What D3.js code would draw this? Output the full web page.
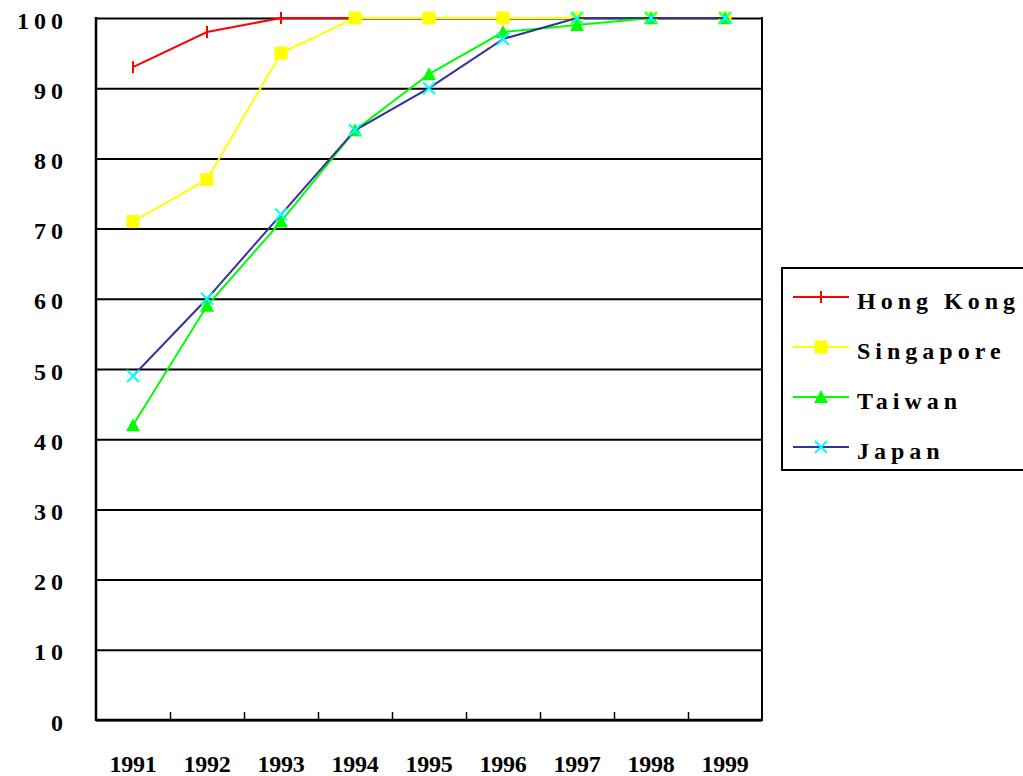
<!DOCTYPE html>
<html>
<head>
<meta charset="utf-8">
<script src="https://cdn.jsdelivr.net/npm/d3@7"></script>
<style>
  html, body { margin: 0; padding: 0; background: #fff; }
  svg { display: block; }
  text { font-family: "Liberation Serif", "Times New Roman", serif; font-weight: bold; fill: #000; }
</style>
</head>
<body>
<svg id="chart" width="1023" height="776"></svg>
<script>
// Years along the bottom axis
const years = ["1991", "1992", "1993", "1994", "1995", "1996", "1997", "1998", "1999"];

// Percentage values for each economy
const hongKong  = [93, 98, 100, 100, 100, 100, 100, 100, 100];
const singapore = [71, 77, 95, 100, 100, 100, 100, 100, 100];
const taiwan    = [42, 59, 71, 84, 92, 98, 99, 100, 100];
const japan     = [49, 60, 72, 84, 90, 97, 100, 100, 100];

// Value-axis tick labels
const yTicks = [0, 10, 20, 30, 40, 50, 60, 70, 80, 90, 100];

const seriesNames = ["Hong Kong", "Singapore", "Taiwan", "Japan"];

const series = [
  { name: seriesNames[0], values: hongKong,  line: "#ff0000", marker: "tick",     mfill: "#ff0000" },
  { name: seriesNames[1], values: singapore, line: "#ffff00", marker: "square",   mfill: "#ffff00" },
  { name: seriesNames[2], values: taiwan,    line: "#00ff00", marker: "triangle", mfill: "#00ff00" },
  { name: seriesNames[3], values: japan,     line: "#333399", marker: "cross",    mfill: "#00ffff" }
];

const svg = d3.select("#chart");
const plot = { left: 96, right: 762, top: 18, bottom: 720 };

const x = d3.scaleBand().domain(years).range([plot.left, plot.right]).paddingInner(0).paddingOuter(0);
const xEdges = d3.scaleLinear().domain([0, years.length]).range([plot.left, plot.right]);
const y = d3.scaleLinear().domain([0, 100]).range([plot.bottom, plot.top]);

// Horizontal gridlines with value labels
const yAxis = svg.append("g")
  .attr("transform", `translate(${plot.left},0)`)
  .call(d3.axisLeft(y).tickValues(yTicks).tickSize(-(plot.right - plot.left)).tickFormat(d3.format("d")));
yAxis.select(".domain").remove();
yAxis.selectAll(".tick line").attr("stroke", "#000").attr("stroke-width", 2);
yAxis.selectAll(".tick text")
  .attr("x", -28)
  .attr("dy", "0.42em")
  .attr("text-anchor", "end")
  .style("font-size", "24px")
  .style("letter-spacing", "5px");

// Left and right frame edges
svg.append("line").attr("x1", plot.left).attr("x2", plot.left).attr("y1", plot.top - 1).attr("y2", plot.bottom + 1)
  .attr("stroke", "#000").attr("stroke-width", 2.5);
svg.append("line").attr("x1", plot.right).attr("x2", plot.right).attr("y1", plot.top - 1).attr("y2", plot.bottom + 1)
  .attr("stroke", "#000").attr("stroke-width", 2);

// Bottom axis: inward ticks at category boundaries
const xTickAxis = svg.append("g")
  .attr("transform", `translate(0,${plot.bottom})`)
  .call(d3.axisBottom(xEdges).tickValues(d3.range(1, years.length)).tickSize(-8).tickFormat(""));
xTickAxis.select(".domain").attr("stroke", "#000").attr("stroke-width", 2.5)
  .attr("d", `M${plot.left},0H${plot.right}`);
xTickAxis.selectAll(".tick line").attr("stroke", "#000").attr("stroke-width", 1.5);

// Year labels
const xLabels = svg.append("g")
  .attr("transform", `translate(0,${plot.bottom})`)
  .call(d3.axisBottom(x).tickSize(0).tickPadding(0));
xLabels.select(".domain").remove();
xLabels.selectAll(".tick text")
  .attr("y", 52)
  .attr("dy", 0)
  .style("font-size", "24px")
  .style("letter-spacing", "-0.3px");

// Marker shapes
function drawMarker(g, type, fill) {
  if (type === "tick") {
    g.append("line").attr("x1", 0).attr("x2", 0).attr("y1", -6).attr("y2", 6)
      .attr("stroke", fill).attr("stroke-width", 2);
  } else if (type === "square") {
    g.append("rect").attr("x", -6.5).attr("y", -6.5).attr("width", 13).attr("height", 13).attr("fill", fill);
  } else if (type === "triangle") {
    g.append("path").attr("d", "M0,-7L7,6L-7,6Z").attr("fill", fill);
  } else if (type === "cross") {
    g.append("path").attr("d", "M-6,-6L6,6M-6,6L6,-6").attr("stroke", fill).attr("stroke-width", 2).attr("fill", "none");
  }
}

const line = d3.line()
  .x((d, i) => x(years[i]) + x.bandwidth() / 2)
  .y(d => y(d));

series.forEach(s => {
  const g = svg.append("g");
  g.append("path").datum(s.values).attr("d", line)
    .attr("fill", "none").attr("stroke", s.line).attr("stroke-width", 2);
  g.selectAll("g.m").data(s.values).join("g")
    .attr("class", "m")
    .attr("transform", (d, i) => `translate(${x(years[i]) + x.bandwidth() / 2},${y(d)})`)
    .each(function () { drawMarker(d3.select(this), s.marker, s.mfill); });
});

// Legend
const legend = svg.append("g");
legend.append("rect").attr("x", 782).attr("y", 268).attr("width", 260).attr("height", 202)
  .attr("fill", "#fff").attr("stroke", "#000").attr("stroke-width", 2);
const ly = d3.scalePoint().domain(seriesNames).range([297, 447]);
series.forEach(s => {
  const g = legend.append("g").attr("transform", `translate(0,${ly(s.name)})`);
  g.append("line").attr("x1", 793).attr("x2", 849).attr("y1", 0).attr("y2", 0)
    .attr("stroke", s.line).attr("stroke-width", 2);
  const m = g.append("g").attr("transform", "translate(821,0)");
  drawMarker(m, s.marker, s.mfill);
  g.append("text").attr("x", 857).attr("y", 12).text(s.name)
    .style("font-size", "24px").style("letter-spacing", "5px");
});
</script>
</body>
</html>
